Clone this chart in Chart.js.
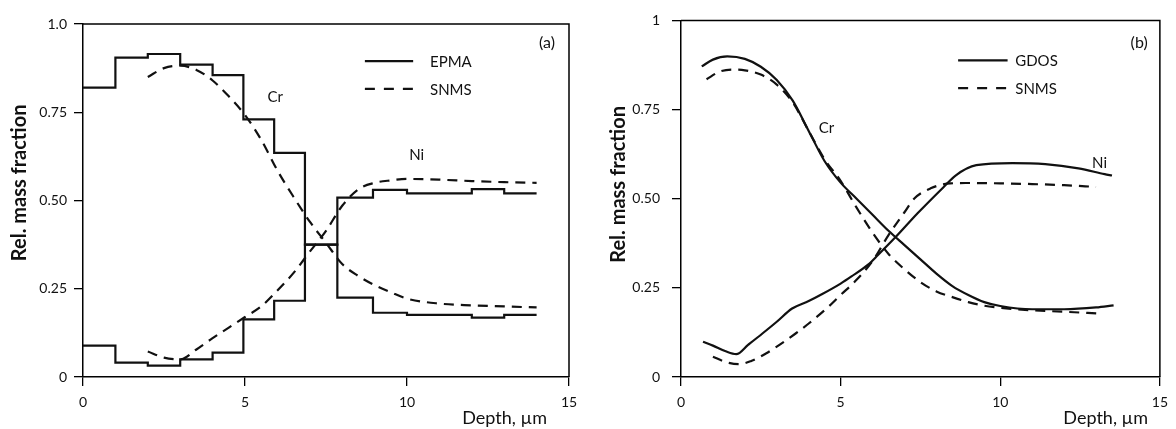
<!DOCTYPE html>
<html lang="en">
<head>
<meta charset="UTF-8">
<script src="https://cdn.jsdelivr.net/npm/chart.js"></script>
<title>Cr / Ni depth profiles</title>
<style>
  body { margin: 0; background: #fff; }
  canvas { position: absolute; top: 0; }
</style>
</head>
<body>
<canvas id="grafico-a" width="590" height="429" style="left:0"></canvas>
<canvas id="grafico-b" width="586" height="429" style="left:590px"></canvas>
<script>
// ticks
const xTickLabels = ['0', '5', '10', '15'];
const yTickLabelsA = ['0', '0.25', '0.50', '0.75', '1.0'];
const yTickLabelsB = ['0', '0.25', '0.50', '0.75', '1'];

// (a) EPMA, step profile (value holds from this depth to the next one)
const depthEpma = [0, 1, 2, 3, 4, 4.95, 5.9, 6.85, 7.85, 8.95, 10, 11, 12, 13, 14];
const crEpma = [0.82, 0.905, 0.915, 0.885, 0.855, 0.73, 0.635, 0.375, 0.225, 0.182, 0.176, 0.176, 0.168, 0.176, 0.176];
const niEpma = [0.089, 0.041, 0.032, 0.05, 0.069, 0.163, 0.216, 0.375, 0.508, 0.53, 0.52, 0.52, 0.532, 0.52, 0.52];

// (a) SNMS
const depthSnmsA = [2, 2.5, 3, 3.5, 4, 4.5, 5, 5.5, 6, 6.5, 7, 7.5, 8, 8.5, 9, 9.5, 10, 11, 12, 13, 14];
const crSnmsA = [0.85, 0.875, 0.882, 0.87, 0.84, 0.795, 0.742, 0.672, 0.585, 0.51, 0.44, 0.38, 0.32, 0.286, 0.26, 0.24, 0.222, 0.208, 0.203, 0.2, 0.197];
const niSnmsA = [0.072, 0.055, 0.05, 0.078, 0.11, 0.14, 0.17, 0.2, 0.245, 0.295, 0.355, 0.414, 0.485, 0.532, 0.55, 0.557, 0.561, 0.559, 0.555, 0.552, 0.55];

// (b) GDOS
const depthGdosCr = [0.65, 1, 1.45, 2, 2.5, 3, 3.5, 4, 4.5, 5, 5.5, 6, 6.5, 7, 7.5, 8, 8.5, 9, 9.5, 10, 11, 12, 13, 13.55];
const crGdos = [0.871, 0.89, 0.899, 0.892, 0.87, 0.833, 0.775, 0.69, 0.605, 0.545, 0.5, 0.455, 0.41, 0.37, 0.33, 0.29, 0.255, 0.23, 0.21, 0.199, 0.19, 0.19, 0.195, 0.201];
const depthGdosNi = [0.69, 1, 1.4, 1.73, 2.1, 2.55, 3, 3.48, 4, 4.41, 5, 5.34, 5.86, 6.17, 6.73, 7.41, 8.23, 8.6, 9.25, 10.38, 11.41, 12.45, 13.27, 13.5];
const niGdos = [0.099, 0.088, 0.072, 0.064, 0.09, 0.122, 0.155, 0.192, 0.213, 0.232, 0.262, 0.282, 0.315, 0.342, 0.393, 0.459, 0.533, 0.565, 0.594, 0.6, 0.597, 0.585, 0.569, 0.565];

// (b) SNMS
const depthSnmsCrB = [0.8, 1.2, 1.6, 2, 2.5, 3, 3.5, 4, 4.5, 5, 5.5, 6, 6.5, 7, 7.5, 8, 8.5, 9, 9.5, 10, 11, 12, 13.1];
const crSnmsB = [0.835, 0.856, 0.862, 0.86, 0.848, 0.82, 0.77, 0.69, 0.61, 0.55, 0.475, 0.405, 0.345, 0.302, 0.266, 0.24, 0.224, 0.21, 0.2, 0.194, 0.187, 0.183, 0.178];
const depthSnmsNiB = [1, 1.4, 1.83, 2.2, 2.66, 3, 3.59, 4, 4.62, 5, 5.44, 6, 6.5, 7, 7.3, 7.82, 8.44, 9, 10, 11, 12, 13];
const niSnmsB = [0.057, 0.042, 0.036, 0.045, 0.066, 0.085, 0.122, 0.15, 0.197, 0.23, 0.267, 0.325, 0.398, 0.462, 0.5, 0.529, 0.543, 0.544, 0.543, 0.541, 0.538, 0.533];

const FUENTE = 'Lato, "DejaVu Sans", sans-serif';
const NEGRO = '#111';

function puntos(xs, ys) {
    return xs.map((x, i) => ({ x: x, y: ys[i] }));
}

function serie(xs, ys, dashed, stepped) {
    return {
        data: puntos(xs, ys),
        borderColor: NEGRO,
        borderWidth: 2.2,
        borderDash: dashed ? [10, 7] : [],
        pointRadius: 0,
        fill: false,
        stepped: stepped ? 'before' : false,
        cubicInterpolationMode: 'monotone',
        tension: 0.4
    };
}

// text labels, legend, axis titles and the box frame
const anotaciones = {
    id: 'anotaciones',
    afterDraw(chart, args, opts) {
        const ctx = chart.ctx;
        const a = chart.chartArea;
        const sx = chart.scales.x;
        const sy = chart.scales.y;
        ctx.save();
        ctx.strokeStyle = '#000';
        ctx.lineWidth = 1.5;
        ctx.beginPath();
        ctx.moveTo(a.left, a.top);
        ctx.lineTo(a.right, a.top);
        ctx.lineTo(a.right, a.bottom);
        ctx.stroke();

        ctx.fillStyle = NEGRO;
        ctx.textBaseline = 'middle';
        ctx.textAlign = 'center';
        opts.etiquetas.forEach(e => {
            ctx.font = e.size + 'px ' + FUENTE;
            ctx.fillText(e.text, sx.getPixelForValue(e.x), sy.getPixelForValue(e.y));
        });

        // legend
        const ley = opts.leyenda;
        ctx.textAlign = 'left';
        ctx.font = '15px ' + FUENTE;
        ley.items.forEach(it => {
            const y = sy.getPixelForValue(it.y);
            ctx.lineWidth = 2.2;
            ctx.strokeStyle = NEGRO;
            ctx.setLineDash(it.dashed ? [10, 9] : []);
            ctx.beginPath();
            ctx.moveTo(sx.getPixelForValue(ley.x0), y);
            ctx.lineTo(sx.getPixelForValue(ley.x1), y);
            ctx.stroke();
            ctx.fillText(it.text, sx.getPixelForValue(ley.xt), y + 1);
        });
        ctx.setLineDash([]);

        // x title under the axis, right side
        ctx.textAlign = 'right';
        ctx.font = '18px ' + FUENTE;
        ctx.fillText('Depth, \u00b5m', sx.getPixelForValue(opts.depthX), a.bottom + 41);

        // y title, rotated
        ctx.translate(opts.tituloY.x, sy.getPixelForValue(opts.tituloY.y));
        ctx.rotate(-Math.PI / 2);
        ctx.textAlign = 'center';
        ctx.font = 'bold 20px ' + FUENTE;
        ctx.fillText('Rel. mass fraction', 0, 0);
        ctx.restore();
    }
};

function opciones(yLabels, yWidth, padding, yPad) {
    return {
        responsive: false,
        animation: false,
        layout: { padding: padding },
        plugins: { legend: { display: false }, tooltip: { enabled: false } },
        scales: {
            x: {
                type: 'linear',
                min: 0,
                max: 15,
                afterFit: s => { s.height = 52; },
                afterBuildTicks: s => { s.ticks = [0, 5, 10, 15].map(v => ({ value: v })); },
                ticks: {
                    color: NEGRO,
                    font: { family: FUENTE, size: 14 },
                    padding: 8,
                    maxRotation: 0,
                    callback: (v, i) => xTickLabels[i]
                },
                grid: { drawOnChartArea: false, drawTicks: true, tickLength: 9, color: '#000', lineWidth: 1.3 },
                border: { color: '#000', width: 1.5 }
            },
            y: {
                min: 0,
                max: 1,
                afterFit: s => { s.width = yWidth; },
                afterBuildTicks: s => { s.ticks = [0, 0.25, 0.5, 0.75, 1].map(v => ({ value: v })); },
                ticks: {
                    color: NEGRO,
                    font: { family: FUENTE, size: 14 },
                    padding: yPad,
                    callback: (v, i) => yLabels[i]
                },
                grid: { drawOnChartArea: false, drawTicks: true, tickLength: 9, color: '#000', lineWidth: 1.3 },
                border: { color: '#000', width: 1.5 }
            }
        }
    };
}

const optsA = opciones(yTickLabelsA, 83, { top: 24, right: 21, left: 0, bottom: 0 }, 7);
optsA.plugins.anotaciones = {
    etiquetas: [
        { text: 'Cr', x: 5.93, y: 0.793, size: 15 },
        { text: 'Ni', x: 10.3, y: 0.629, size: 15 },
        { text: '(a)', x: 14.32, y: 0.946, size: 16 }
    ],
    leyenda: {
        x0: 8.7, x1: 10.19, xt: 10.71,
        items: [
            { text: 'EPMA', y: 0.895, dashed: false },
            { text: 'SNMS', y: 0.816, dashed: true }
        ]
    },
    tituloY: { x: 20, y: 0.55 },
    depthX: 14.32
};

new Chart(document.getElementById('grafico-a'), {
    type: 'line',
    data: {
        datasets: [
            serie(depthEpma, crEpma, false, true),
            serie(depthEpma, niEpma, false, true),
            serie(depthSnmsA, crSnmsA, true, false),
            serie(depthSnmsA, niSnmsA, true, false)
        ]
    },
    options: optsA,
    plugins: [anotaciones]
});

const optsB = opciones(yTickLabelsB, 91, { top: 20, right: 11, left: 0, bottom: 0 }, 12);
optsB.plugins.anotaciones = {
    etiquetas: [
        { text: 'Cr', x: 4.56, y: 0.697, size: 15 },
        { text: 'Ni', x: 13.11, y: 0.599, size: 15 },
        { text: '(b)', x: 14.35, y: 0.936, size: 16 }
    ],
    leyenda: {
        x0: 8.68, x1: 10.23, xt: 10.47,
        items: [
            { text: 'GDOS', y: 0.888, dashed: false },
            { text: 'SNMS', y: 0.81, dashed: true }
        ]
    },
    tituloY: { x: 29, y: 0.54 },
    depthX: 14.63
};

new Chart(document.getElementById('grafico-b'), {
    type: 'line',
    data: {
        datasets: [
            serie(depthGdosCr, crGdos, false, false),
            serie(depthGdosNi, niGdos, false, false),
            serie(depthSnmsCrB, crSnmsB, true, false),
            serie(depthSnmsNiB, niSnmsB, true, false)
        ]
    },
    options: optsB,
    plugins: [anotaciones]
});
</script>
</body>
</html>
